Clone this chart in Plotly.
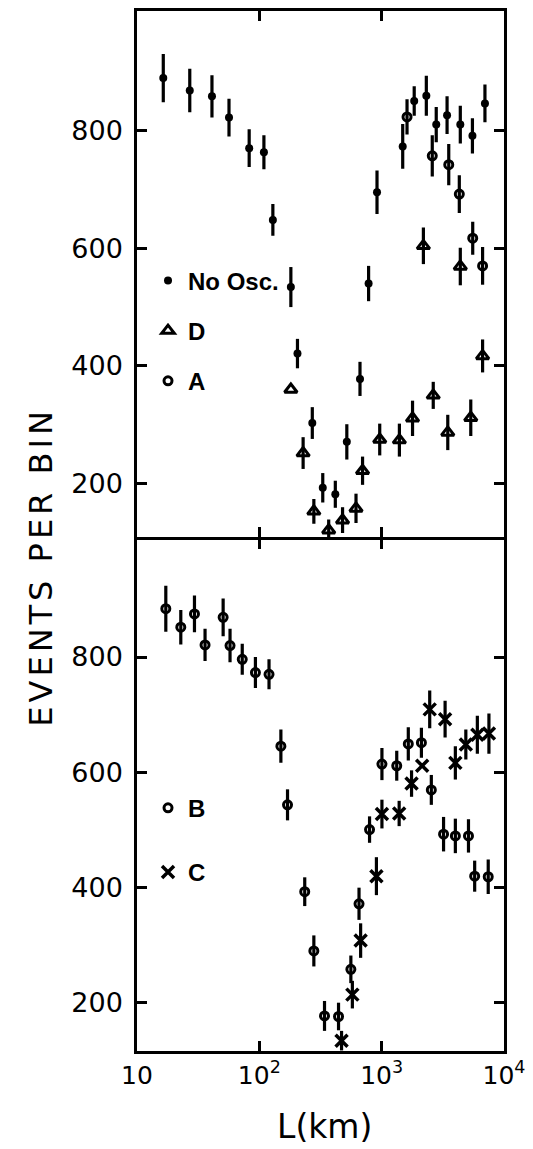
import plotly.graph_objects as go

# ---------------- data ----------------
# Top panel
noosc_L = [16.4, 27, 41, 56.5, 82.6, 109, 129, 181, 205, 271, 330, 418, 519, 665, 782, 916,
           1486, 1845, 2318, 2793, 3425, 4393, 5520, 6985]
noosc_N = [889, 868, 858, 822, 770, 763, 648, 534, 421, 303, 193, 182, 271, 378, 540, 695,
           773, 850, 859, 810, 826, 810, 791, 846]
noosc_err = [41, 37, 36, 32, 32, 29, 27, 34, 25, 27, 25, 23, 30, 29, 30, 37,
             38, 25, 34, 30, 32, 32, 30, 32]

D_L = [181, 228, 279, 369, 479, 617, 698, 964, 1396, 1788, 2193, 2640, 3470, 4393, 5350, 6683]
D_N = [360, 252, 153, 121, 138, 158, 222, 275, 274, 311, 604, 350, 287, 569, 312, 417]
D_err = [0, 27, 21, 18, 22, 25, 24, 27, 28, 30, 31, 23, 30, 32, 31, 28]

A_L = [1612, 2592, 3535, 4312, 5550, 6683]
A_N = [823, 757, 742, 692, 617, 570]
A_err = [30, 35, 35, 32, 28, 32]

# Bottom panel
B_L = [17.2, 22.8, 29.5, 36, 50.6, 57.6, 72.5, 92.9, 120, 150, 170, 235, 279, 341, 444, 560,
       653, 796, 1005, 1328, 1651, 2113, 2546, 3206, 4003, 5124, 5758, 7430]
B_N = [884, 852, 875, 821, 869, 820, 796, 773, 770, 645, 543, 392, 289, 176, 175, 257,
       371, 500, 614, 611, 649, 651, 569, 492, 489, 489, 419, 418]
B_err = [40, 30, 32, 28, 33, 29, 27, 27, 26, 29, 27, 25, 27, 26, 24, 24,
         28, 23, 28, 26, 29, 26, 26, 30, 30, 29, 27, 30]

C_L = [470, 576, 673, 906, 1005, 1390, 1755, 2143, 2470, 3300, 4003, 4875, 6055, 7530]
C_N = [133, 213, 307, 419, 527, 528, 580, 611, 709, 692, 616, 648, 665, 667]
C_err = [17, 24, 30, 33, 25, 22, 23, 0, 33, 32, 29, 26, 33, 35]

x_tickvals = [10, 100, 1000, 10000]
x_ticktext = ["10", "10<sup>2</sup>", "10<sup>3</sup>", "10<sup>4</sup>"]
y_tickvals = [200, 400, 600, 800]

# ---------------- figure ----------------
BLK = "black"
PH = 1043.0
LW = 2.5
split = (1051 - 537) / PH
half = (LW / 2) / PH


def err(arr):
    return dict(type="data", array=arr, visible=True, color=BLK, thickness=3.2, width=0)


fig = go.Figure()

fig.add_trace(go.Scatter(x=noosc_L, y=noosc_N, mode="markers", name="No Osc.",
                         xaxis="x", yaxis="y", legend="legend", legendgroup="n",
                         marker=dict(symbol="circle", size=8, color=BLK),
                         error_y=err(noosc_err)))
fig.add_trace(go.Scatter(x=D_L, y=D_N, mode="markers", name="D",
                         xaxis="x", yaxis="y", legend="legend", legendgroup="d",
                         marker=dict(symbol="triangle-up-open", size=11, color=BLK,
                                     line=dict(width=3, color=BLK)),
                         error_y=err(D_err)))
fig.add_trace(go.Scatter(x=A_L, y=A_N, mode="markers", name="A",
                         xaxis="x", yaxis="y", legend="legend", legendgroup="a",
                         marker=dict(symbol="circle-open", size=8, color=BLK,
                                     line=dict(width=3, color=BLK)),
                         error_y=err(A_err)))
fig.add_trace(go.Scatter(x=B_L, y=B_N, mode="markers", name="B",
                         xaxis="x2", yaxis="y2", legend="legend2", legendgroup="b",
                         marker=dict(symbol="circle-open", size=8, color=BLK,
                                     line=dict(width=3, color=BLK)),
                         error_y=err(B_err)))
fig.add_trace(go.Scatter(x=C_L, y=C_N, mode="markers", name="C",
                         xaxis="x2", yaxis="y2", legend="legend2", legendgroup="c",
                         marker=dict(symbol="x-thin", size=12, color=BLK,
                                     line=dict(width=3.5, color=BLK)),
                         error_y=err(C_err)))

axis_common = dict(showline=True, linewidth=LW, linecolor=BLK, mirror="ticks",
                   ticks="inside", ticklen=10, tickwidth=2.5, tickcolor=BLK,
                   showgrid=False, zeroline=False)

yfont = dict(size=27, family="DejaVu Sans", color=BLK)
legfont = dict(size=24, family="Liberation Sans", weight="bold", color=BLK)

fig.update_layout(
    width=533, height=1149,
    margin=dict(l=137, r=24, t=8, b=98),
    paper_bgcolor="white", plot_bgcolor="white",
    font=dict(family="DejaVu Sans", color=BLK),
    xaxis=dict(domain=[0, 1], anchor="y", type="log", range=[1, 4],
               tickvals=x_tickvals, showticklabels=False, **axis_common),
    xaxis2=dict(domain=[0, 1], anchor="y2", type="log", range=[1, 4], matches="x",
                tickvals=x_tickvals, ticktext=x_ticktext, ticklabeloverflow="allow",
                tickfont=dict(size=25, family="DejaVu Sans", color=BLK), **axis_common),
    yaxis=dict(domain=[split + half, 1], anchor="x", range=[109, 1003], tickvals=y_tickvals,
               tickfont=yfont, ticklabelstandoff=6, **axis_common),
    yaxis2=dict(domain=[0, split - half], anchor="x2", range=[115, 1004], tickvals=y_tickvals,
                tickfont=yfont, ticklabelstandoff=6, **axis_common),
    legend=dict(x=0.03, y=(1051 - 256) / PH, xanchor="left", yanchor="top",
                bgcolor="rgba(0,0,0,0)", borderwidth=0, traceorder="grouped",
                tracegroupgap=16, font=legfont),
    legend2=dict(x=0.03, y=(1051 - 785) / PH, xanchor="left", yanchor="top",
                 bgcolor="rgba(0,0,0,0)", borderwidth=0, traceorder="grouped",
                 tracegroupgap=30, font=legfont),
    showlegend=True,
    annotations=[
        dict(text='<span style="letter-spacing:4px">EVENTS PER BIN</span>',
             xref="paper", yref="paper",
             x=(40 - 137) / 372.0, y=(1051 - 565) / PH, showarrow=False,
             textangle=-90, xanchor="center", yanchor="middle",
             font=dict(size=32, family="DejaVu Sans", color=BLK)),
        dict(text="L(km)", xref="paper", yref="paper",
             x=(327 - 137) / 372.0, y=(1051 - 1127) / PH, showarrow=False,
             xanchor="center", yanchor="middle",
             font=dict(size=33, family="DejaVu Sans", color=BLK)),
    ],
)

fig.write_html("out.html")
